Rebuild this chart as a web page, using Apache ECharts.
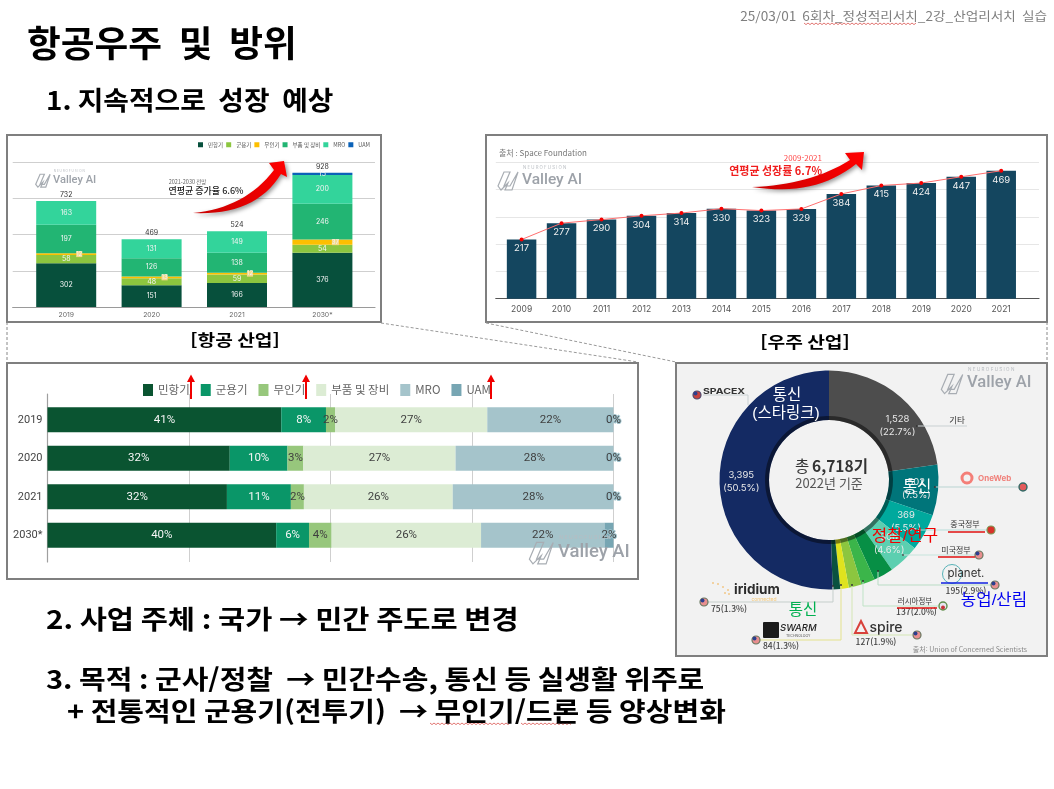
<!DOCTYPE html>
<html lang="ko">
<head>
<meta charset="utf-8">
<title>항공우주 및 방위</title>
<script src="https://cdn.jsdelivr.net/npm/echarts@6/dist/echarts.min.js"></script>
<style>
  html, body { margin: 0; padding: 0; background: #fff; }
  #panels, #slide { position: absolute; left: 0; top: 0; width: 1054px; height: 789px; }
  #panels { filter: blur(0.55px); }
  #slide { pointer-events: none; }
</style>
</head>
<body>
<div id="panels"></div>
<div id="slide"></div>
<script>
// Aviation market size by segment
const aviationYears = ['2019', '2020', '2021', '2030*'];
const segmentNames = ['민항기', '군용기', '무인기', '부품 및 장비', 'MRO', 'UAM'];
const civil = [302, 151, 166, 376];
const military = [58, 48, 59, 54];
const drones = [12, 13, 12, 37];
const parts = [197, 126, 138, 246];
const mro = [163, 131, 149, 200];
const uam = [0, 0, 0, 15];
const aviationTotals = [732, 469, 524, 928];

// Space industry size
const spaceYears = ['2009', '2010', '2011', '2012', '2013', '2014', '2015', '2016', '2017', '2018', '2019', '2020', '2021'];
const spaceValues = [217, 277, 290, 304, 314, 330, 323, 329, 384, 415, 424, 447, 469];

// Segment shares by year, in percent
const shareCivil = [41.3, 32.2, 31.7, 40.4];
const shareMilitary = [7.9, 10.2, 11.3, 5.8];
const shareDrones = [1.6, 2.8, 2.3, 4.0];
const shareParts = [26.9, 26.9, 26.3, 26.4];
const shareMro = [22.3, 27.9, 28.4, 21.8];
const shareUam = [0, 0, 0, 1.6];

// Satellites in orbit by operator
const satelliteOwners = ['기타', 'OneWeb', '중국정부', '미국정부', 'Planet', '러시아정부', 'Spire', 'Swarm', 'Iridium', 'SpaceX'];
const satelliteCounts = [1528, 502, 369, 306, 195, 137, 127, 84, 75, 3395];
const satelliteShares = [22.7, 7.5, 5.5, 4.6, 2.9, 2.0, 1.9, 1.3, 1.3, 50.5];
const satelliteColors = ['#4d4d4d', '#00757a', '#00a99d', '#5ccfb0', '#078f45', '#3bb54a', '#8cc63f', '#dfe31e', '#0a5240', '#142a63'];

const aviationColors = ['#07503c', '#8cc63f', '#fdbf00', '#22b573', '#33d49b', '#0b62b8'];
const shareColors = ['#0a5431', '#0a9668', '#97c77c', '#dcecd4', '#a5c4cb', '#77a6b3'];
const KR = '"Noto Sans CJK KR", "Noto Sans", sans-serif';

const txt = (text, x, y, size, fill, opts = {}) => ({
  type: 'text', x, y, z: opts.z || 10, scaleX: opts.scaleX || 1,
  style: {
    text, fill,
    font: `${opts.style || ''} ${opts.weight || 'normal'} ${size}px ${opts.family || KR}`,
    align: opts.align || 'center', verticalAlign: 'middle'
  }
});
const poly = (points, stroke, width = 1, dash) => ({
  type: 'polyline', z: 8, shape: { points },
  style: { stroke, lineWidth: width, fill: null, lineDash: dash }
});
const dot = (x, y, r, fill, stroke, lineWidth = 1) => ({
  type: 'circle', z: 9, shape: { cx: x, cy: y, r }, style: { fill, stroke, lineWidth }
});
const usFlag = (x, y) => [dot(x, y, 4, '#e88f8f', '#66775f', 1.2), dot(x - 1.5, y - 1.5, 2, '#2c3f8f', null, 0)];

// Company watermark: outlined mark, small caps line and wordmark
function watermark(x, y, width) {
  const s = width / 57;
  const mark = [[0, 6], [6, -8], [12, -8], [6, 6], [12, 6], [20, -8], [14, 10], [7, 10], [10, 3], [3, 10]]
    .map(p => [x - 24 * s + p[0] * s, y + p[1] * s]);
  return [
    { type: 'polygon', z: 3, shape: { points: mark }, style: { fill: null, stroke: '#a8adb3', lineWidth: 1.2 } },
    txt('Valley AI', x, y, 15.5 * s, '#9da2a9', { align: 'left', weight: 500, family: 'Roboto, sans-serif', z: 3 }),
    txt('N E U R O F U S I O N', x + 1 * s, y - 12.5 * s, 4.3 * s, '#b8bcc1', { align: 'left', family: 'Inter, sans-serif', z: 3 })
  ];
}

// Spell-check squiggle under a run of slide text
function squiggle(x0, x1, y) {
  const pts = [];
  for (let x = x0, up = 0; x <= x1; x += 2, up = 1 - up) pts.push([x, y + up * 1.6]);
  return poly(pts, '#d9534f', 0.8);
}

const stackedSeries = [civil, military, drones, parts, mro, uam].map((data, i) => ({
  name: segmentNames[i], type: 'bar', stack: 'market', xAxisIndex: 1, yAxisIndex: 1,
  data, barWidth: 60, itemStyle: { color: aviationColors[i] },
  label: {
    show: true, fontSize: i === 2 ? 6 : 7, color: '#f4f4f4', fontFamily: 'Inter, sans-serif',
    position: 'inside', offset: i === 2 ? [13, 0] : [0, 0],
    backgroundColor: i === 2 ? '#f4d98a' : 'transparent',
    formatter: p => (p.value === 0 ? '' : String(p.value))
  }
}));

const shareSeries = [shareCivil, shareMilitary, shareDrones, shareParts, shareMro, shareUam].map((data, i) => ({
  name: segmentNames[i], type: 'bar', stack: 'share', xAxisIndex: 5, yAxisIndex: 5,
  data, barWidth: 25, itemStyle: { color: shareColors[i] },
  label: {
    show: true, position: 'inside', fontSize: 11.5, fontFamily: 'Roboto, sans-serif',
    color: i < 2 ? '#f6f6f6' : '#3f3f3f',
    textBorderColor: i === 5 ? '#9cc0ca' : 'transparent', textBorderWidth: i === 5 ? 2 : 0,
    formatter: p => Math.round(p.value) + '%'
  }
}));

const fmtCount = n => n.toLocaleString('en-US');
const pieData = satelliteOwners.map((name, i) => ({
  name, value: satelliteCounts[i],
  itemStyle: { color: satelliteColors[i] },
  label: {
    show: i < 4 || i === 9,
    offset: i === 0 ? [11, 12] : [0, 0],
    formatter: fmtCount(satelliteCounts[i]) + '\n(' + satelliteShares[i].toFixed(1) + '%)'
  }
}));

const leaderLabel = (i) => `${satelliteCounts[i]}(${satelliteShares[i].toFixed(1)}%)`;

const panelGraphics = [
  { type: 'rect', z: -5, shape: { x: 7, y: 135, width: 374, height: 187 }, style: { fill: '#fff' } },
  { type: 'rect', z: -5, shape: { x: 676, y: 363, width: 371, height: 293 }, style: { fill: '#f2f2f2' } },

  // Aviation chart notes
  ...watermark(53, 180, 41),
  txt('2021-2030 전망', 187.5, 181.5, 5.5, '#666'),
  txt('연평균 증가율 6.6%', 206, 190.5, 9, '#222', { weight: 500 }),

  // Space chart notes
  ...watermark(522, 180, 57),
  txt('출처 : Space Foundation', 499, 152.5, 8, '#777', { align: 'left' }),
  txt('2009-2021', 822, 157.5, 8, '#ff4a4a', { align: 'right' }),
  txt('연평균 성장률 6.7%', 822, 170.5, 11, '#f01c1c', { align: 'right', weight: 700 }),

  // Share chart watermark
  ...watermark(558, 552, 68),

  // Constellation panel
  ...watermark(967, 383, 61),
  txt('총', 795, 466.5, 15.5, '#333', { align: 'left' }),
  txt('6,718기', 812, 466.5, 15.5, '#333', { align: 'left', weight: 700 }),
  txt('2022년 기준', 829, 483.5, 13, '#555'),
  txt('출처: Union of Concerned Scientists', 1027, 649, 7, '#8a8a8a', { align: 'right' }),

  poly([[917, 426], [967, 426]], '#c9d0d2'),
  dot(917, 426, 1, '#333', null, 0),
  txt('기타', 957, 420, 8.5, '#333'),

  poly([[703, 395], [748, 395], [748, 405]], '#c9d0d2'),
  dot(697, 395, 4, '#c8423e', '#4b4b70', 1.2),
  dot(695.5, 393.5, 2, '#2c3f8f', null, 0),
  txt('SPACEX', 724, 391.5, 7.5, '#333', { weight: 700, family: 'Inter, sans-serif', scaleX: 1.4 }),

  poly([[935, 487], [1018, 487]], '#b9d4d2'),
  dot(935, 487, 1, '#333', null, 0),
  dot(1023, 487, 4, '#e25b5b', '#2e6a66', 1.4),
  dot(967, 478, 5, null, '#f47f78', 3),
  txt('OneWeb', 978, 478.5, 8, '#f0807a', { align: 'left', weight: 700, family: 'Inter, sans-serif' }),

  poly([[917, 530], [987, 530]], '#b7dcd8'),
  dot(917, 530, 1, '#555', null, 0),
  dot(991, 530, 4, '#d8322a', '#7c9a55', 1.2),
  txt('중국정부', 965, 524, 8, '#333'),

  poly([[903, 555], [975, 555]], '#c6e4dc'),
  dot(903, 555, 1, '#555', null, 0),
  ...usFlag(979, 555),
  txt('미국정부', 956, 550, 8, '#333'),

  poly([[878, 571], [878, 585], [991, 585]], '#b9dcc5'),
  dot(878, 571, 1, '#333', null, 0),
  ...usFlag(995, 585),
  dot(952, 574, 9.5, null, '#58b3b8', 1),
  txt('planet.', 966, 574, 11.5, '#333', { family: 'Inter, sans-serif' }),
  txt(leaderLabel(4), 966, 590.5, 8.5, '#444', { weight: 500 }),

  poly([[863, 581], [863, 606], [938, 606]], '#bfe3c6'),
  dot(863, 581, 1, '#333', null, 0),
  dot(943, 606, 4, '#e6e6f0', '#5f8f4a', 1.4),
  dot(943, 607.5, 2, '#c8323a', null, 0),
  txt('러시아정부', 915, 601, 7.5, '#333'),
  txt(leaderLabel(5), 916.5, 612, 8.5, '#444', { weight: 500 }),

  poly([[852, 585], [852, 635], [912, 635]], '#d4e6b4'),
  dot(852, 585, 1, '#333', null, 0),
  ...usFlag(917, 635),
  { type: 'polygon', z: 9, shape: { points: [[861, 621], [855, 633], [867, 633]] }, style: { fill: null, stroke: '#d8413a', lineWidth: 2 } },
  txt('spire', 886, 628, 14, '#333', { weight: 500, family: 'Inter, sans-serif' }),
  txt(leaderLabel(6), 876, 642, 8.5, '#444', { weight: 500 }),

  poly([[841, 585], [841, 640], [760, 640]], '#e4e28c'),
  dot(841, 585, 1, '#333', null, 0),
  ...usFlag(756, 640),
  { type: 'rect', z: 9, shape: { x: 763, y: 622, width: 16, height: 16, r: 1 }, style: { fill: '#1b1b1b' } },
  txt('SWARM', 780, 628, 9.5, '#222', { align: 'left', style: 'italic', family: 'Inter, sans-serif', weight: 500 }),
  txt('TECHNOLOGY', 786, 636, 3.5, '#555', { align: 'left', family: 'Inter, sans-serif' }),
  txt(leaderLabel(7), 781, 645.5, 8.5, '#444', { weight: 500 }),

  poly([[833, 586], [833, 602], [708, 602]], '#c5cecb'),
  dot(833, 586, 1, '#333', null, 0),
  ...usFlag(704, 602),
  dot(713, 583, 0.8, '#f2a93b', null, 0), dot(718, 584, 0.8, '#f2a93b', null, 0), dot(723, 587, 0.8, '#f2a93b', null, 0),
  dot(728, 590, 0.8, '#f2a93b', null, 0), dot(729, 594, 0.8, '#f2a93b', null, 0), dot(725, 593, 0.8, '#f2a93b', null, 0),
  txt('iridium', 734, 590, 13.5, '#2b2b2b', { align: 'left', weight: 700, family: 'Inter, sans-serif' }),
  txt('connected', 764, 599, 5, '#f5c97a', { family: 'Inter, sans-serif' }),
  txt(leaderLabel(8), 729, 609, 8.5, '#444', { weight: 500 })
];

const panels = echarts.init(document.getElementById('panels'), null, { renderer: 'canvas' });
panels.setOption({
  animation: false,
  backgroundColor: '#fff',
  textStyle: { fontFamily: KR },
  graphic: panelGraphics,
  legend: [
    {
      data: segmentNames.map((name, i) => ({ name, itemStyle: { color: aviationColors[i] } })),
      left: 193, top: 137, icon: 'rect', itemWidth: 5, itemHeight: 5, itemGap: 3,
      selectedMode: false, textStyle: { fontSize: 5.5, color: '#555' }
    },
    {
      data: segmentNames.map((name, i) => ({ name, itemStyle: { color: shareColors[i] } })),
      left: 138, top: 379, icon: 'rect', itemWidth: 10, itemHeight: 12, itemGap: 11,
      selectedMode: false, textStyle: { fontSize: 11.5, color: '#666' }
    }
  ],
  grid: [
    { left: 12.7, top: 162.3, width: 362.3, height: 144.8 },
    { left: 23.5, top: 162.3, width: 341.6, height: 144.8 },
    { left: 495.8, top: 162.3, width: 543.2, height: 136.4 },
    { left: 501.6, top: 162.3, width: 519.6, height: 136.4 },
    { left: 47.5, top: 394, width: 566, height: 168 },
    { left: 47.5, top: 400.5, width: 566, height: 154 }
  ],
  xAxis: [
    { gridIndex: 0, type: 'value', min: 0, max: 1, axisLabel: { show: false }, axisTick: { show: false }, splitLine: { show: false }, axisLine: { show: true, onZero: false, lineStyle: { color: '#9a9a9a', width: 1.2 } } },
    { gridIndex: 1, type: 'category', data: aviationYears, axisLine: { show: false }, axisTick: { show: false }, axisLabel: { fontSize: 6.8, color: '#666', margin: 4, fontFamily: 'Inter, sans-serif' } },
    { gridIndex: 2, type: 'value', min: 0, max: 1, axisLabel: { show: false }, axisTick: { show: false }, splitLine: { show: false }, axisLine: { show: true, onZero: false, lineStyle: { color: '#555', width: 1.2 } } },
    { gridIndex: 3, type: 'category', data: spaceYears, axisLine: { show: false }, axisTick: { show: false }, axisLabel: { fontSize: 8.5, color: '#555', margin: 6, fontFamily: 'Inter, sans-serif' } },
    { gridIndex: 4, type: 'value', min: 0, max: 100, interval: 25, axisLabel: { show: false }, axisTick: { show: false }, axisLine: { show: false }, splitLine: { lineStyle: { color: '#cfcfcf' } } },
    { gridIndex: 5, type: 'value', min: 0, max: 100, show: false }
  ],
  yAxis: [
    { gridIndex: 0, type: 'value', min: 0, max: 1000, interval: 250, axisLabel: { show: false }, axisLine: { show: false }, axisTick: { show: false }, splitLine: { lineStyle: { color: '#cfcfcf', width: 1.2 } } },
    { gridIndex: 1, type: 'value', min: 0, max: 1000, show: false },
    { gridIndex: 2, type: 'value', min: 0, max: 500, interval: 100, axisLabel: { show: false }, axisLine: { show: false }, axisTick: { show: false }, splitLine: { lineStyle: { color: '#e6e6e6' } } },
    { gridIndex: 3, type: 'value', min: 0, max: 500, show: false },
    { gridIndex: 4, type: 'category', data: [''], axisLabel: { show: false }, axisTick: { show: false }, axisLine: { show: true, lineStyle: { color: '#9f9f9f', width: 1.2 } } },
    { gridIndex: 5, type: 'category', data: aviationYears, inverse: true, axisLine: { show: false }, axisTick: { show: false }, axisLabel: { fontSize: 11, color: '#444', margin: 5, fontFamily: 'Roboto, sans-serif' } }
  ],
  series: [
    ...stackedSeries,
    {
      name: '합계', type: 'line', xAxisIndex: 1, yAxisIndex: 1, data: aviationTotals,
      lineStyle: { color: 'transparent' }, symbol: 'circle', symbolSize: 1,
      itemStyle: { color: 'transparent' }, silent: true,
      label: { show: true, position: 'top', distance: 2, fontSize: 7, color: '#333', fontFamily: 'Inter, sans-serif' }
    },
    {
      name: '우주 산업', type: 'bar', xAxisIndex: 3, yAxisIndex: 3, data: spaceValues, barWidth: 29.5,
      itemStyle: { color: '#14465f' },
      label: { show: true, position: 'insideTop', distance: 4, fontSize: 9.5, color: '#f0f0f0', fontFamily: 'Inter, sans-serif' }
    },
    {
      name: '추세', type: 'line', xAxisIndex: 3, yAxisIndex: 3, data: spaceValues, z: 5,
      symbol: 'circle', symbolSize: 4, itemStyle: { color: '#f40000' }, lineStyle: { color: '#ff6f6f', width: 1 }
    },
    ...shareSeries,
    {
      name: '위성', type: 'pie', center: [829, 480], radius: [60, 109.5], startAngle: 90, clockwise: true,
      data: pieData, z: 2, silent: true, labelLine: { show: false },
      avoidLabelOverlap: false, labelLayout: { hideOverlap: false },
      label: { position: 'inside', fontSize: 9.5, color: '#e9e9e9', lineHeight: 13, fontFamily: 'Inter, ' + KR }
    },
    {
      name: '안쪽 테두리', type: 'pie', center: [829, 480], radius: [60, 64], startAngle: 90, clockwise: true,
      data: satelliteCounts.map(value => ({ value })), z: 3, silent: true,
      label: { show: false }, labelLine: { show: false }, itemStyle: { color: 'rgba(0,0,0,0.45)' }
    }
  ]
});

const frame = (x0, y0, x1, y1) => ({
  type: 'rect', z: 5, shape: { x: x0, y: y0, width: x1 - x0, height: y1 - y0 },
  style: { fill: null, stroke: '#7f7f7f', lineWidth: 2 }
});

// Curved block arrow: tail point, upper edge to the head, arrowhead, lower edge back to the tail
function swoosh(tail, upperCtrl, notchA, barbA, tip, barbB, notchB, lowerCtrl) {
  const q = (a, c, b, t) => [
    (1 - t) * (1 - t) * a[0] + 2 * t * (1 - t) * c[0] + t * t * b[0],
    (1 - t) * (1 - t) * a[1] + 2 * t * (1 - t) * c[1] + t * t * b[1]
  ];
  const pts = [];
  for (let k = 0; k <= 16; k++) pts.push(q(tail, upperCtrl, notchA, k / 16));
  pts.push(barbA, tip, barbB);
  for (let k = 0; k <= 16; k++) pts.push(q(notchB, lowerCtrl, tail, k / 16));
  return {
    type: 'polygon', z: 6, shape: { points: pts },
    style: {
      fill: { type: 'linear', x: 0, y: 1, x2: 1, y2: 0, colorStops: [{ offset: 0, color: '#c80000' }, { offset: 1, color: '#ff0000' }] },
      shadowBlur: 4, shadowOffsetX: 2, shadowOffsetY: 2, shadowColor: 'rgba(0,0,0,0.4)'
    }
  };
}
const upArrow = (x) => [
  poly([[x, 399], [x, 380]], '#f00000', 2),
  { type: 'polygon', z: 8, shape: { points: [[x, 374.5], [x - 4, 382], [x + 4, 382]] }, style: { fill: '#f00000' } }
];

const overlay = (text, x, y, fill, scaleX = 1) => txt(text, x, y, 15.5, fill, { family: '"Liberation Sans", ' + KR, z: 12, scaleX });
const redLine = (x0, x1, y, c = '#e01010') => poly([[x0, y], [x1, y]], c, 1.3);

const slide = echarts.init(document.getElementById('slide'), null, { renderer: 'canvas' });
slide.setOption({
  animation: false,
  graphic: [
    txt('25/03/01  6회차_정성적리서치_2강_산업리서치  실습', 1047, 16.5, 12.5, '#7f7f7f', { align: 'right', scaleX: 1.09 }),
    squiggle(804, 917, 23),
    txt('항공우주  및  방위', 27, 43, 36, '#000', { align: 'left', weight: 700, scaleX: 1.02 }),
    txt('1. 지속적으로  성장  예상', 46, 100, 26, '#000', { align: 'left', weight: 700, scaleX: 1.07 }),
    txt('[항공 산업]', 235, 340, 16, '#000', { weight: 700, scaleX: 1.2 }),
    txt('[우주 산업]', 805, 342, 16, '#000', { weight: 700, scaleX: 1.2 }),
    txt('2. 사업 주체 : 국가 → 민간 주도로 변경', 46, 619, 26, '#000', { align: 'left', weight: 700, scaleX: 1.135 }),
    txt('3. 목적 : 군사/정찰  → 민간수송, 통신 등 실생활 위주로', 46, 679, 26, '#000', { align: 'left', weight: 700, scaleX: 1.115 }),
    txt('+ 전통적인 군용기(전투기)  → 무인기/드론 등 양상변화', 67, 711, 26, '#000', { align: 'left', weight: 700, scaleX: 1.115 }),
    squiggle(430, 510, 723),
    squiggle(521, 572, 723),

    frame(7, 135, 381, 322),
    frame(486, 135, 1047, 322),
    frame(7, 363, 638, 579),
    frame(676, 363, 1047, 656),
    poly([[7, 322], [7, 363]], '#888', 1, [3, 2]),
    poly([[1047, 322], [1047, 363]], '#888', 1, [3, 2]),
    poly([[381, 323], [638, 362]], '#999', 1, [3, 2]),
    poly([[486, 323], [676, 362]], '#999', 1, [3, 2]),

    swoosh([193, 213], [245, 208], [274, 170], [269, 163], [284, 161], [287, 177], [281, 174], [255, 216]),
    swoosh([752, 187], [810, 185], [850, 160], [845, 153], [864, 152], [862, 170], [856, 164], [815, 197]),

    ...upArrow(191), ...upArrow(306), ...upArrow(491),

    overlay('통신', 787, 396, '#fff'),
    overlay('(스타링크)', 786, 414, '#fff'),
    overlay('통신', 917, 488, '#fff'),
    overlay('정찰/연구', 905, 537, '#f00000', 1.08),
    overlay('농업/산림', 994, 601, '#0000f0', 1.08),
    overlay('통신', 803, 611, '#00b050'),
    redLine(948, 985, 532), redLine(938, 975, 557), redLine(897, 937, 608), redLine(941, 988, 583, '#1020e0')
  ]
});
</script>
</body>
</html>
